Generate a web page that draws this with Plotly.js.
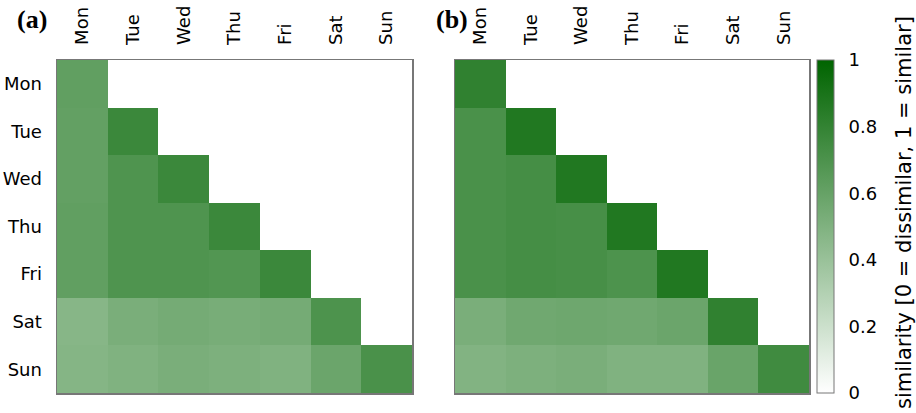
<!DOCTYPE html>
<html><head><meta charset="utf-8">
<script src="https://cdn.plot.ly/plotly-3.0.1.min.js"></script>
<style>body{margin:0;padding:0;background:#fff}</style>
</head><body>
<div id="chart" style="width:916px;height:413px"></div>
<script>
const days = ["Mon","Tue","Wed","Thu","Fri","Sat","Sun"];
// lower-triangular similarity matrices (null = empty)
const simA = [
  [0.62, null, null, null, null, null, null],
  [0.61, 0.77, null, null, null, null, null],
  [0.61, 0.69, 0.77, null, null, null, null],
  [0.62, 0.69, 0.69, 0.77, null, null, null],
  [0.62, 0.69, 0.69, 0.68, 0.77, null, null],
  [0.47, 0.52, 0.54, 0.53, 0.54, 0.70, null],
  [0.48, 0.50, 0.52, 0.51, 0.50, 0.58, 0.71]
];
const simB = [
  [0.81, null, null, null, null, null, null],
  [0.71, 0.87, null, null, null, null, null],
  [0.71, 0.73, 0.87, null, null, null, null],
  [0.71, 0.73, 0.72, 0.87, null, null, null],
  [0.71, 0.73, 0.72, 0.70, 0.87, null, null],
  [0.52, 0.56, 0.57, 0.56, 0.58, 0.81, null],
  [0.49, 0.51, 0.52, 0.50, 0.50, 0.59, 0.75]
];
const cbTicks = [0, 0.2, 0.4, 0.6, 0.8, 1];
const cbLabels = ["0", "0.2", "0.4", "0.6", "0.8", "1"];
const cbTitle = "similarity [0 = dissimilar, 1 = similar]";

const cs = [[0, "rgb(255,255,255)"], [1, "rgb(0,100,0)"]];
const fontTick = {family: "DejaVu Sans", size: 18, color: "#000"};

const yTop = 1 - 60/413, yBot = 1 - 393/413;

const traces = [
  {type: "heatmap", x: days, y: days, z: simA, zmin: 0, zmax: 1, colorscale: cs,
   showscale: false, xaxis: "x", yaxis: "y", hoverongaps: false},
  {type: "heatmap", x: days, y: days, z: simB, zmin: 0, zmax: 1, colorscale: cs,
   xaxis: "x2", yaxis: "y2", hoverongaps: false,
   colorbar: {x: 817/916, xanchor: "left", y: yBot, yanchor: "bottom",
     len: yTop - yBot, lenmode: "fraction", thickness: 17, xpad: 0, ypad: 0,
     outlinewidth: 1, outlinecolor: "#777",
     tickvals: cbTicks, ticktext: cbLabels,
     ticks: "outside", ticklen: 11, tickcolor: "rgba(0,0,0,0)",
     tickfont: {family: "DejaVu Sans", size: 18, color: "#000"}}}
];

function xax(d0, d1, anchor) {
  return {domain: [d0, d1], anchor: anchor, side: "top", tickangle: -90,
    tickfont: fontTick, showgrid: false, zeroline: false, ticks: "",
    ticklabelstandoff: 10,
    showline: true, mirror: true, linecolor: "#777", linewidth: 1.5,
    automargin: false, type: "category"};
}
function yax(anchor, labels) {
  return {domain: [yBot, yTop], anchor: anchor, autorange: "reversed",
    tickfont: fontTick, showgrid: false, zeroline: false, ticks: "",
    showticklabels: labels, ticklabelstandoff: 10,
    showline: true, mirror: true, linecolor: "#777", linewidth: 1.5,
    automargin: false, type: "category"};
}

const layout = {
  width: 916, height: 413,
  margin: {l: 0, r: 0, t: 0, b: 0},
  paper_bgcolor: "#fff", plot_bgcolor: "#fff",
  xaxis: xax(57/916, 412/916, "y"),
  yaxis: yax("x", true),
  xaxis2: xax(455/916, 809/916, "y2"),
  yaxis2: yax("x2", false),
  annotations: [
    {text: "<b>(a)</b>", xref: "paper", yref: "paper", x: 32/916, y: 1 - 20/413,
     xanchor: "center", yanchor: "middle", showarrow: false,
     font: {family: "Liberation Serif", size: 26, color: "#000"}},
    {text: "<b>(b)</b>", xref: "paper", yref: "paper", x: 452/916, y: 1 - 20/413,
     xanchor: "center", yanchor: "middle", showarrow: false,
     font: {family: "Liberation Serif", size: 26, color: "#000"}},
    {text: cbTitle, xref: "paper", yref: "paper", x: 904/916, y: 1 - 213/413,
     xanchor: "center", yanchor: "middle", textangle: -90, showarrow: false,
     font: {family: "DejaVu Sans", size: 21, color: "#000"}}
  ],
  showlegend: false
};

Plotly.newPlot("chart", traces, layout, {staticPlot: true, displayModeBar: false});
</script>
</body></html>
